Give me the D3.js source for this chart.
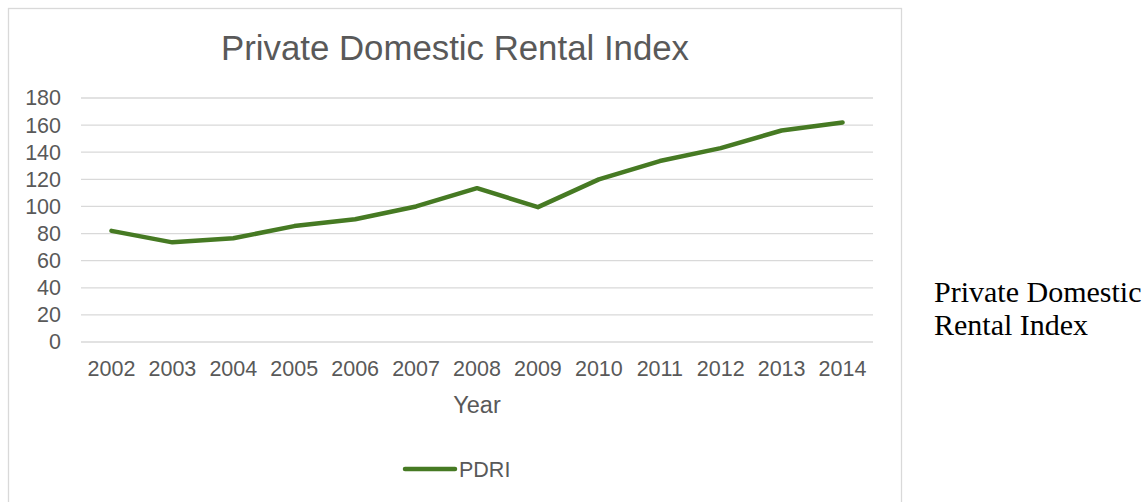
<!DOCTYPE html>
<html>
<head>
<meta charset="utf-8">
<script src="https://cdn.jsdelivr.net/npm/d3@7"></script>
<style>
  html, body { margin: 0; padding: 0; background: #fff; }
  svg { display: block; }
</style>
</head>
<body>
<svg id="chart" width="1146" height="502"></svg>
<script>
// Private Domestic Rental Index by year
const years = ["2002","2003","2004","2005","2006","2007","2008","2009","2010","2011","2012","2013","2014"];
const pdri = [82, 73.5, 76.5, 85.5, 90.5, 100, 113.5, 99.5, 120, 133.5, 143, 156, 162];
const yTicks = [0, 20, 40, 60, 80, 100, 120, 140, 160, 180];
const seriesName = "PDRI";
const chartTitle = "Private Domestic Rental Index";
const xTitle = "Year";
const sideNote = ["Private Domestic", "Rental Index"];

const svg = d3.select("#chart");
const font = "'Liberation Sans', Arial, sans-serif";
const textColor = "#595959";
const lineColor = "#467a23";

// chart frame
svg.append("rect")
  .attr("x", 8.5).attr("y", 8.5)
  .attr("width", 893).attr("height", 520)
  .attr("fill", "none").attr("stroke", "#d9d9d9").attr("stroke-width", 1.3);

const plot = { left: 81, right: 873, top: 98, bottom: 342 };

const x = d3.scaleBand().domain(years).range([plot.left, plot.right]);
const y = d3.scaleLinear().domain([0, 180]).range([plot.bottom, plot.top]);

// horizontal gridlines
svg.append("g")
  .selectAll("line")
  .data(yTicks)
  .join("line")
  .attr("x1", plot.left).attr("x2", plot.right)
  .attr("y1", d => y(d)).attr("y2", d => y(d))
  .attr("stroke", "#d9d9d9").attr("stroke-width", 1.3);

// y axis labels
const yAxis = svg.append("g")
  .attr("transform", `translate(${plot.left},0)`)
  .call(d3.axisLeft(y).tickValues(yTicks).tickSize(0).tickPadding(20));
yAxis.select(".domain").remove();
yAxis.selectAll("text")
  .attr("font-family", font).attr("font-size", 21.5).attr("fill", textColor);

// x axis labels
const xAxis = svg.append("g")
  .attr("transform", `translate(0,${plot.bottom})`)
  .call(d3.axisBottom(x).tickSize(0).tickPadding(19));
xAxis.select(".domain").remove();
xAxis.selectAll("text")
  .attr("font-family", font).attr("font-size", 21.5).attr("fill", textColor);

// data line
const line = d3.line()
  .x((d, i) => x(years[i]) + x.bandwidth() / 2)
  .y(d => y(d));

svg.append("path")
  .datum(pdri)
  .attr("d", line)
  .attr("fill", "none")
  .attr("stroke", lineColor)
  .attr("stroke-width", 4.5)
  .attr("stroke-linejoin", "round")
  .attr("stroke-linecap", "round");

// title
svg.append("text")
  .attr("x", 455).attr("y", 60)
  .attr("text-anchor", "middle")
  .attr("font-family", font).attr("font-size", 34.8)
  .attr("fill", textColor)
  .text(chartTitle);

// x axis title
svg.append("text")
  .attr("x", 477).attr("y", 413)
  .attr("text-anchor", "middle")
  .attr("font-family", font).attr("font-size", 23.5)
  .attr("fill", textColor)
  .text(xTitle);

// legend
svg.append("line")
  .attr("x1", 405).attr("x2", 455)
  .attr("y1", 469).attr("y2", 469)
  .attr("stroke", lineColor).attr("stroke-width", 4.5)
  .attr("stroke-linecap", "round");
svg.append("text")
  .attr("x", 459).attr("y", 477)
  .attr("font-family", font).attr("font-size", 21.5)
  .attr("fill", textColor)
  .text(seriesName);

// caption beside the chart
svg.append("text")
  .attr("font-family", "'Liberation Serif', 'Times New Roman', serif")
  .attr("font-size", 30)
  .attr("fill", "#000")
  .selectAll("tspan")
  .data(sideNote)
  .join("tspan")
  .attr("x", 934)
  .attr("y", (d, i) => 302 + i * 33)
  .text(d => d);
</script>
</body>
</html>
